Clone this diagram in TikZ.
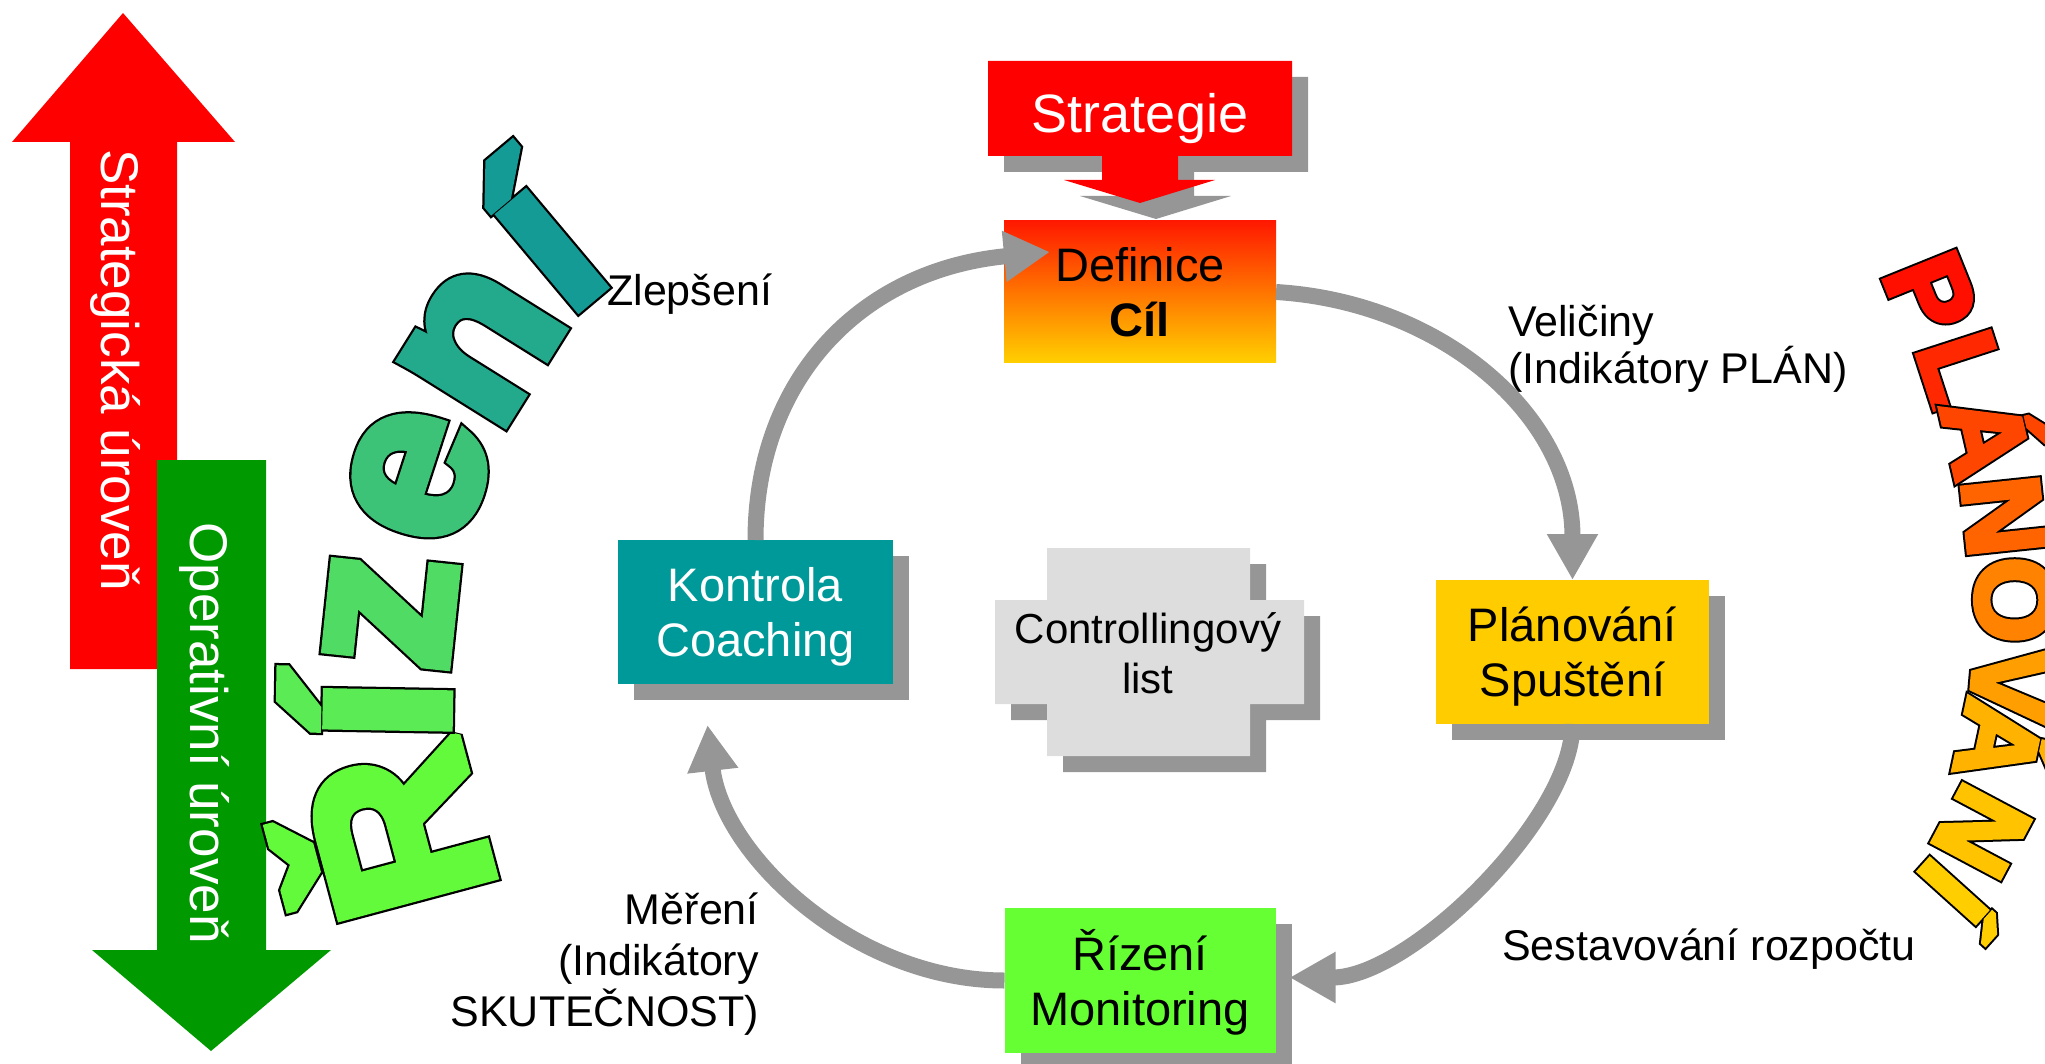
\documentclass[tikz,border=0pt]{standalone}
\usepackage{fontspec}
\setmainfont{Liberation Sans}
\usetikzlibrary{arrows.meta,shadows,calc}
\definecolor{shadowgray}{RGB}{150,150,150}
\definecolor{arrowgray}{RGB}{150,150,150}
\definecolor{redA}{RGB}{255,0,0}
\definecolor{greenA}{RGB}{0,153,0}
\definecolor{kontfill}{RGB}{0,153,153}
\definecolor{planfill}{RGB}{255,204,0}
\definecolor{rizfill}{RGB}{102,255,51}
\definecolor{listfill}{RGB}{221,221,221}
\definecolor{defTop}{RGB}{255,25,0}
\definecolor{defBot}{RGB}{255,208,0}
% WordArt colours
\definecolor{wr1}{RGB}{100,250,60}
\definecolor{wr2}{RGB}{90,235,85}
\definecolor{wr3}{RGB}{80,220,100}
\definecolor{wr4}{RGB}{60,195,120}
\definecolor{wr5}{RGB}{35,170,140}
\definecolor{wr6}{RGB}{20,155,150}
\definecolor{wp1}{RGB}{255,15,0}
\definecolor{wp2}{RGB}{255,40,0}
\definecolor{wp3}{RGB}{255,70,0}
\definecolor{wp4}{RGB}{255,100,0}
\definecolor{wp5}{RGB}{255,130,0}
\definecolor{wp6}{RGB}{255,158,0}
\definecolor{wp7}{RGB}{255,178,0}
\definecolor{wp8}{RGB}{255,195,0}
\definecolor{wp9}{RGB}{255,206,0}
% outlined, emboldened letter: #1 = fill-stroke width, #2 = outline stroke width, #3 = letter
\newcommand{\olet}[3]{\rlap{\color{black}\special{pdf:literal direct 1 Tr 0 j 2 M #2 w}#3\special{pdf:literal direct 0 Tr}}\special{pdf:literal direct 2 Tr 0 j 2 M #1 w}#3\special{pdf:literal direct 0 Tr}}
\newcommand{\olA}[1]{\olet{10}{14.5}{#1}}
\newcommand{\olB}[1]{\olet{5}{9}{#1}}
\begin{document}
\begin{tikzpicture}[x=1pt,y=-1pt,
  box/.style={inner sep=0pt,outer sep=0pt,align=center,text depth=0pt,font=\fontsize{47}{55}\selectfont},
  shad/.style={drop shadow={shadow xshift=16pt,shadow yshift=-16pt,opacity=1,fill=shadowgray}},
  flow/.style={draw=arrowgray,line width=16pt,-{Triangle[length=46pt,width=48pt]}},
  lbl/.style={inner sep=0pt,font=\fontsize{43}{47}\selectfont},
  lvl/.style={inner sep=0pt,text=white,rotate=-90,anchor=base,font=\fontsize{53}{53}\selectfont},
  wa/.style={inner sep=0pt,outer sep=0pt,text depth=0pt,font=\bfseries\fontsize{228}{228}\selectfont},
  wb/.style={inner sep=0pt,outer sep=0pt,text depth=0pt,text height=79pt,font=\bfseries\fontsize{110}{110}\selectfont}]
\useasboundingbox (0,0) rectangle (2045,1064);
\clip (0,0) rectangle (2045,1064);
% level arrows
\fill[redA] (123,13) -- (235,142) -- (177,142) -- (177,669) -- (70,669) -- (70,142) -- (12,142) -- cycle;
\fill[greenA] (157,460) -- (266,460) -- (266,950) -- (331,950) -- (211,1051) -- (92,950) -- (157,950) -- cycle;
\node[lvl] (strlvl) at (101,370) {Strategická úroveň};
\node[lvl] (oplvl) at (190,733) {Operativní úroveň};
% Strategie callout
\fill[shadowgray,shift={(16,16)}] (988,61) -- (1292,61) -- (1292,156) -- (1178,156) -- (1178,180) -- (1215,180) -- (1140,203) -- (1064,180) -- (1102,180) -- (1102,156) -- (988,156) -- cycle;
\fill[redA] (988,61) -- (1292,61) -- (1292,156) -- (1178,156) -- (1178,180) -- (1215,180) -- (1140,203) -- (1064,180) -- (1102,180) -- (1102,156) -- (988,156) -- cycle;
\node[inner sep=0pt,text=white,font=\fontsize{54}{54}\selectfont,text height=38.7pt,text depth=0pt] (strat) at (1140,113) {Strategie};
% boxes
\node[box,minimum width=272pt,minimum height=142pt,top color=defTop,bottom color=defBot,text height=89pt] (def) at (1140,292) {Definice\\\textbf{Cíl}};
\node[box,shad,fill=kontfill,text=white,minimum width=275pt,minimum height=144pt,text height=89pt] (kon) at (755.5,612) {Kontrola\\Coaching};
\node[box,shad,fill=planfill,minimum width=273pt,minimum height=144pt,text height=89pt] (plan) at (1572.5,652) {Plánování\\Spuštění};
\node[box,shad,fill=rizfill,minimum width=271pt,minimum height=145pt,text height=90pt] (riz) at (1140,980.5) {Řízení\\Monitoring};
% controlling list (cross)
\fill[shadowgray,shift={(16,16)}] (1047,548) -- (1250,548) -- (1250,600) -- (1304,600) -- (1304,704) -- (1250,704) -- (1250,756) -- (1047,756) -- (1047,704) -- (995,704) -- (995,600) -- (1047,600) -- cycle;
\fill[listfill] (1047,548) -- (1250,548) -- (1250,600) -- (1304,600) -- (1304,704) -- (1250,704) -- (1250,756) -- (1047,756) -- (1047,704) -- (995,704) -- (995,600) -- (1047,600) -- cycle;
\node[box,font=\fontsize{42}{50}\selectfont,text height=80pt] (clist) at (1148,653) {Controllingový\\list};
% cycle arrows
\draw[flow] (def.east) .. controls +(165,10) and +(0,-165) .. (plan.north);
\draw[flow] (plan.south) .. controls +(0,95) and +(120,0) .. ($(riz.east)+(14,-3)$);
\draw[flow] (riz.west) .. controls +(-150,0) and +(15,130) .. ($(kon.south)+(-48,41)$);
\draw[flow] (kon.north) .. controls +(0,-160) and +(-190,18) .. ($(def.west)+(46,-40)$);
% labels
\node[lbl,anchor=base west] (zlep) at (607,306) {Zlepšení};
\node[lbl,anchor=south west,align=left,text height=78pt,text depth=0pt] (veli) at (1508,384) {Veličiny\\(Indikátory PLÁN)};
\node[lbl,anchor=base west] (sest) at (1502,960) {Sestavování rozpočtu};
\node[lbl,font=\fontsize{43}{51}\selectfont,anchor=south east,align=right,text height=133pt,text depth=0pt] (mer) at (759,1027) {Měření\\(Indikátory\hspace*{12pt}\\SKUTEČNOST)};
% WordArt "Řízení"
\node[wa,text height=163pt,rotate=105,text=wr1] (wR) at (397,832) {\olA{Ř}};
\node[wa,text height=118pt,rotate=89,text=wr2] (wI1) at (389,710) {\olA{í}};
\node[wa,text height=118pt,rotate=84,text=wr3] (wZ) at (392,612) {\olA{z}};
\node[wa,text height=118pt,rotate=72,text=wr4] (wE) at (420,476) {\olA{e}};
\node[wa,text height=118pt,rotate=58,text=wr5] (wN) at (483,346) {\olA{n}};
\node[wa,text height=118pt,rotate=40,text=wr6] (wI2) at (553,252) {\olA{í}};
% WordArt "PLÁNOVÁNÍ"
\node[wb,rotate=-68,text=wp1] (pP) at (1932,293) {\olB{P}};
\node[wb,rotate=-72,text=wp2] (pL) at (1963,368) {\olB{L}};
\node[wb,rotate=-77,text=wp3] (pA1) at (1987,436) {\olB{Á}};
\node[wb,rotate=-84,text=wp4] (pN1) at (2005,516) {\olB{N}};
\node[wb,rotate=-90,text=wp5] (pO) at (2016,600) {\olB{O}};
\node[wb,rotate=-95,text=wp6] (pV) at (2012,684) {\olB{V}};
\node[wb,rotate=-102,text=wp7] (pA2) at (2000,742) {\olB{Á}};
\node[wb,rotate=-118,text=wp8] (pN2) at (1983,832) {\olB{N}};
\node[wb,rotate=-132,text=wp9] (pI) at (1954,892) {\olB{Í}};
\end{tikzpicture}
\end{document}
